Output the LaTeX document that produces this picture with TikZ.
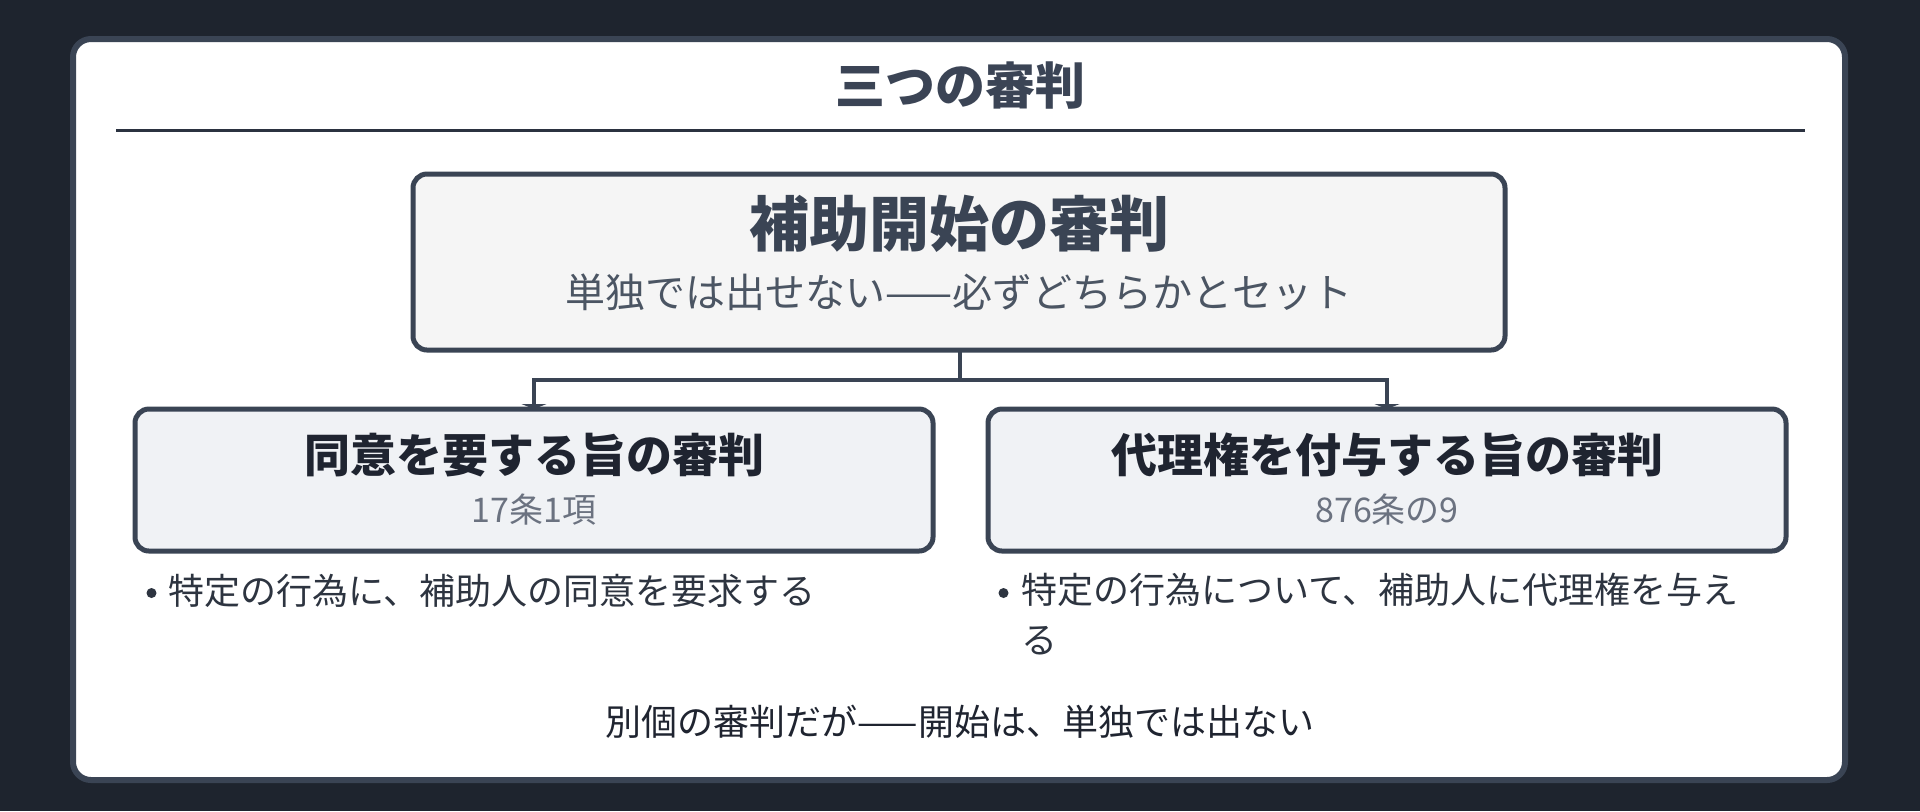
\documentclass[tikz,border=0pt]{standalone}
\usepackage{fontspec}
\setmainfont{Noto Sans CJK JP}
\usetikzlibrary{arrows.meta}
\definecolor{bgdark}{RGB}{30,36,46}
\definecolor{edge}{RGB}{58,68,84}
\definecolor{titlecol}{RGB}{59,68,85}
\definecolor{rulecol}{RGB}{43,50,64}
\definecolor{mainfill}{RGB}{245,245,245}
\definecolor{childfill}{RGB}{240,242,245}
\definecolor{subcol}{RGB}{75,85,99}
\definecolor{darktext}{RGB}{31,36,48}
\definecolor{refcol}{RGB}{107,114,128}
\definecolor{bodytext}{RGB}{45,52,64}
\tikzset{
  card/.style={draw=edge, line width=3pt, fill=white, rounded corners=9pt},
  mainbox/.style={draw=edge, line width=2.5pt, fill=mainfill, rounded corners=7pt,
    minimum width=546pt, minimum height=88pt, inner sep=0pt},
  childbox/.style={draw=edge, line width=2.5pt, fill=childfill, rounded corners=7pt,
    minimum width=399pt, minimum height=71pt, inner sep=0pt},
  conn/.style={draw=edge, line width=2.25pt},
  connarrow/.style={conn, -{Triangle[length=2.5pt, width=12.5pt]}},
  txt/.style={inner sep=0pt},
  bulletdot/.style={circle, fill=bodytext, inner sep=0pt, minimum size=5pt},
}
\begin{document}
\begin{tikzpicture}[x=0.5pt, y=-0.5pt]
\useasboundingbox (0,0) rectangle (1920,811);
\fill[bgdark] (0,0) rectangle (1920,811);
\draw[card] (73,39) rectangle (1845,780);

\node[txt, text=titlecol, font=\fontsize{25pt}{30pt}\selectfont\bfseries] (title) at (960,86) {三つの審判};
\coordinate (ruleL) at (116,130.5);
\coordinate (ruleR) at (1805,130.5);
\draw[rulecol, line width=1.5pt] (ruleL) -- (ruleR);

\coordinate (junction) at (960,380);
\coordinate (mainbot) at (960,350);
\coordinate (leftTop) at (534,409);
\coordinate (rightTop) at (1387,409);
\draw[conn] (mainbot) -- (junction);
\draw[connarrow] (junction) -| (leftTop);
\draw[connarrow] (junction) -| (rightTop);

\node[mainbox] (main) at (959,262) {};
\node[txt, text=edge, font=\fontsize{30pt}{36pt}\selectfont\bfseries] (mainTitle) at (959,224) {補助開始の審判};
\node[txt, text=subcol, font=\fontsize{20pt}{24pt}\selectfont] (mainSub) at (959,292) {単独では出せない——必ずどちらかとセット};

\node[childbox] (left) at (534,480) {};
\node[txt, text=darktext, font=\fontsize{23pt}{28pt}\selectfont\bfseries] (leftTitle) at (534,455) {同意を要する旨の審判};
\node[txt, text=refcol, font=\fontsize{17pt}{20pt}\selectfont] (leftRef) at (534,510) {17条1項};

\node[childbox] (right) at (1387,480) {};
\node[txt, text=darktext, font=\fontsize{23pt}{28pt}\selectfont\bfseries] (rightTitle) at (1387,455) {代理権を付与する旨の審判};
\node[txt, text=refcol, font=\fontsize{17pt}{20pt}\selectfont] (rightRef) at (1387,510) {876条の9};

\node[bulletdot] (leftDot) at (151.5,593) {};
\node[txt, anchor=west, text=bodytext, font=\fontsize{18pt}{25pt}\selectfont] (leftItem) at (168,591) {特定の行為に、補助人の同意を要求する};

\node[bulletdot] (rightDot) at (1003.5,593) {};
\node[txt, anchor=north west, align=left, text=bodytext, font=\fontsize{18pt}{25pt}\selectfont] (rightItem) at (1021,573) {特定の行為について、補助人に代理権を与え\\る};

\node[txt, text=darktext, font=\fontsize{18pt}{22pt}\selectfont] (note) at (960,722) {別個の審判だが——開始は、単独では出ない};
\end{tikzpicture}
\end{document}
